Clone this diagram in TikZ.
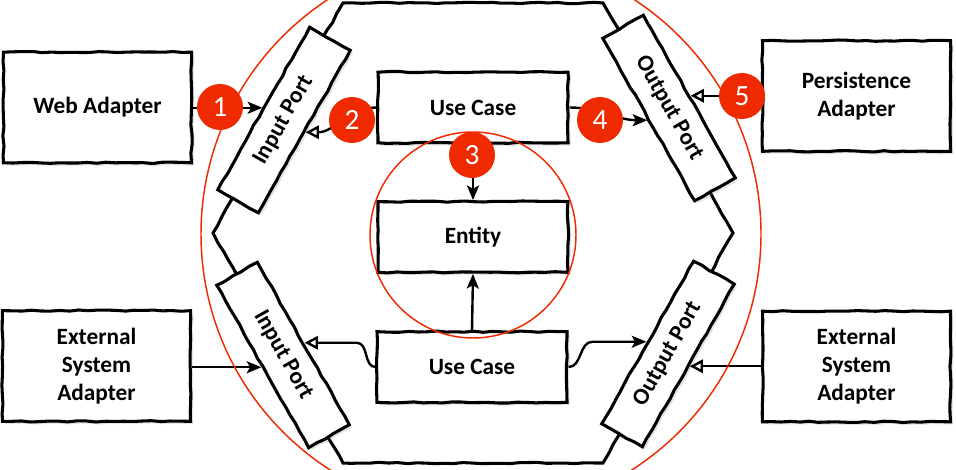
\documentclass[tikz,border=0pt]{standalone}
\usepackage{fontspec}
\setmainfont{Carlito}
\usetikzlibrary{arrows.meta,shadows,decorations.pathmorphing}
\definecolor{hexred}{RGB}{240,42,0}
\begin{document}
\pgfmathsetseed{7}
\begin{tikzpicture}[x=0.75pt,y=-0.75pt,
  sketch/.style={decorate,decoration={random steps,segment length=7pt,amplitude=0.5pt}},
  box/.style={draw, line width=2.3pt, fill=white, sketch,
    drop shadow={shadow xshift=2pt,shadow yshift=-2pt,opacity=0.22},
    align=center, font=\fontsize{17.5}{21}\selectfont\bfseries, inner sep=0pt},
  adapter/.style={box, minimum width=141pt, minimum height=83pt},
  core/.style={box, minimum width=142.5pt, minimum height=53pt},
  port/.style={box, minimum width=140pt, minimum height=35pt},
  arr/.style={line width=1.8pt, -{Stealth[length=11pt,width=9pt,inset=2.5pt]}},
  oarr/.style={line width=1.8pt, -{Triangle[open,length=10pt,width=10pt,fill=white]}},
  num/.style={circle, fill=hexred, text=white, minimum size=34.5pt, inner sep=0pt,
    font=\fontsize{22}{26}\selectfont},
  redring/.style={draw=hexred, line width=1.1pt}
]
\useasboundingbox (0,0) rectangle (956,470);

% hexagon
\draw[line width=2.3pt, sketch] (343,3) -- (603,3) -- (733,233) -- (603,463)
  -- (343,463) -- (213,233) -- cycle;

% ports
\node[port, rotate=60.5]  (ipt) at (284,120) {Input Port};
\node[port, rotate=-60.5] (ipb) at (283,355) {Input Port};
\node[port, rotate=-60.5] (opt) at (669,108) {Output Port};
\node[port, rotate=60.5]  (opb) at (668,354) {Output Port};

% adapters
\node[adapter] (web)  at (97.5,107.5) {Web Adapter};
\node[adapter] (extL) at (96.5,366) {External\\System\\Adapter};
\node[adapter] (pers) at (856.5,96) {Persistence\\Adapter};
\node[adapter] (extR) at (856.5,366.5) {External\\System\\Adapter};

% core
\node[core] (uc1) at (473,107.5) {Use Case};
\node[core] (ent) at (473,237) {Entity};
\node[core] (uc2) at (472,367) {Use Case};

% connectors
\draw[arr] (web.east |- ipt.north) -- (ipt.north);
\draw[oarr] (uc1.west) to[out=180,in=0] (ipt.south);
\draw[arr] (uc1.east) to[out=0,in=180] (opt.south);
\draw[oarr] (pers.west |- opt.north) -- (opt.north);
\draw[arr] (uc1.south) -- (ent.north);
\draw[arr] (uc2.north) -- (ent.south);
\draw[arr] (extL.east |- ipb.south) -- (ipb.south);
\draw[oarr] (uc2.west) to[out=180,in=0] ([xshift=-14pt]uc2.west |- ipb.north) -- (ipb.north);
\draw[arr] (uc2.east) to[out=0,in=180] ([xshift=18pt]uc2.east |- opb.north) -- (opb.north);
\draw[oarr] (extR.west |- opb.south) -- (opb.south);

% red rings
\draw[redring] (481,234) circle[radius=280];
\draw[redring] (473,235) circle[radius=103];

% numbers
\node[num] (n1) at (220,107) {1};
\node[num] (n2) at (352,120) {2};
\node[num] (n3) at (472,155) {3};
\node[num] (n4) at (600,120) {4};
\node[num] (n5) at (742,96) {5};
\end{tikzpicture}
\end{document}
